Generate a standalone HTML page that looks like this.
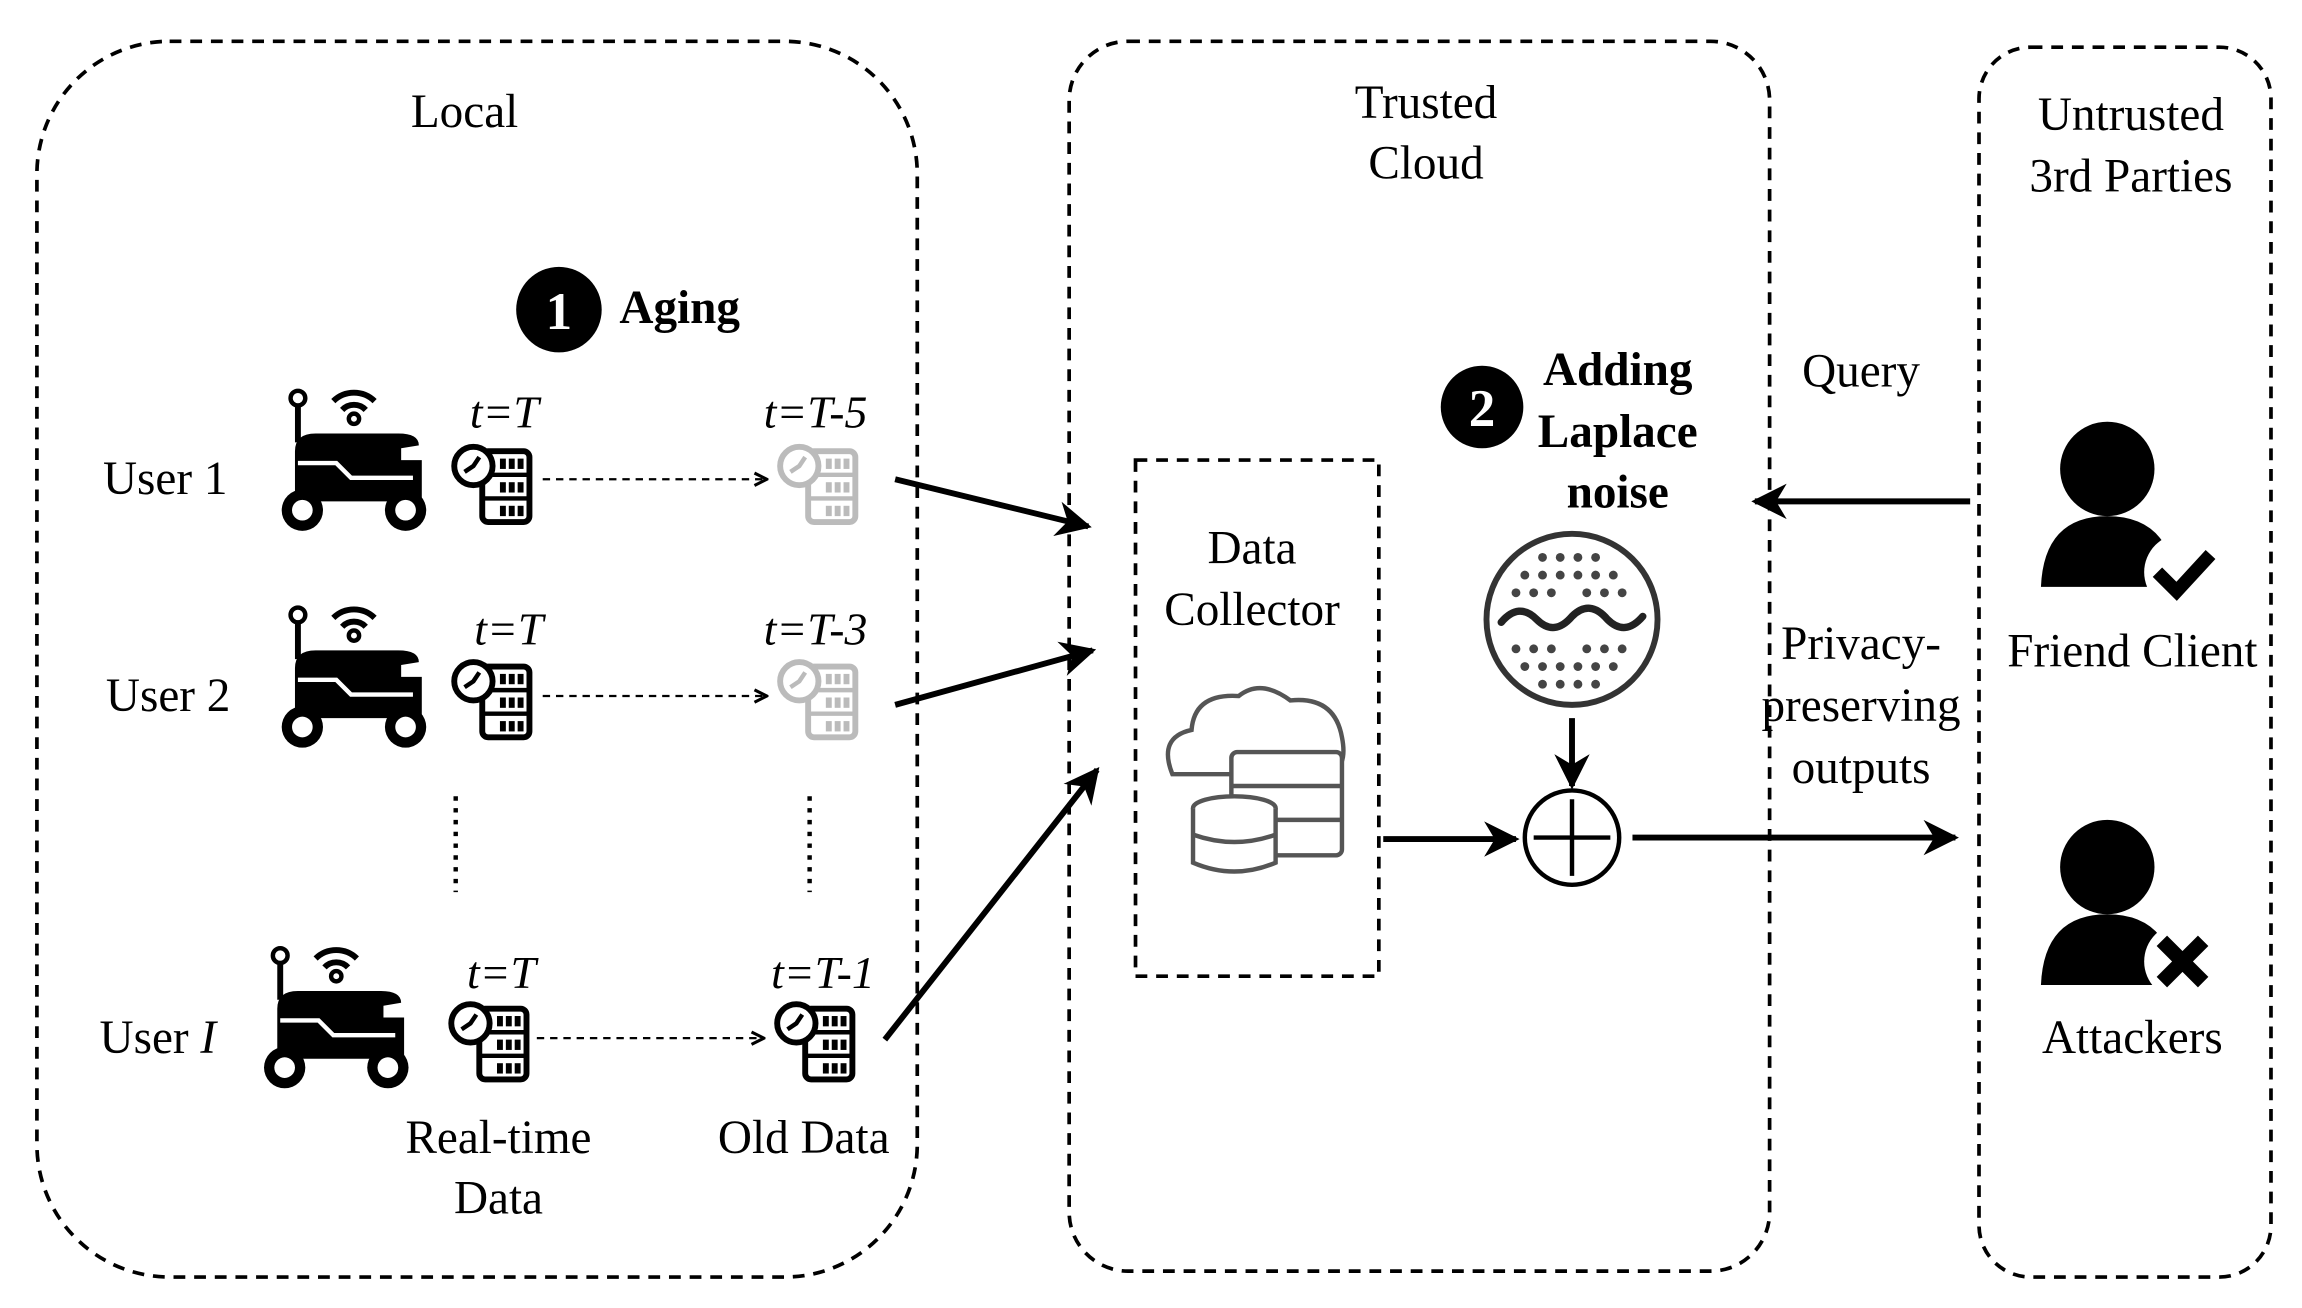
<!DOCTYPE html>
<html><head><meta charset="utf-8"><style>
html,body{margin:0;padding:0;background:#fff;}
svg{display:block;}
text{font-family:"Liberation Serif",serif;fill:#000;}
</style></head><body>
<svg width="2302" height="1308" viewBox="0 0 1561 887" xmlns="http://www.w3.org/2000/svg">
<defs>
<marker id="ah" viewBox="0 0 10 10" refX="9" refY="5" markerWidth="6" markerHeight="6" orient="auto"><path d="M0,0 L10,5 L0,10 L3,5 z" fill="#000"/></marker>
<marker id="sh" viewBox="0 0 10 10" refX="9" refY="5" markerWidth="7" markerHeight="7" orient="auto"><path d="M1,1 L9,5 L1,9" fill="none" stroke="#000" stroke-width="2"/></marker>
<g id="robot">
<circle cx="12" cy="12" r="5" fill="none" stroke="#000" stroke-width="3"/>
<line x1="12" y1="17" x2="12" y2="42" stroke="#000" stroke-width="4"/>
<path d="M36,14 A20,20 0 0 1 64,14" fill="none" stroke="#000" stroke-width="4"/>
<path d="M42,20 A11,11 0 0 1 58,20" fill="none" stroke="#000" stroke-width="4"/>
<circle cx="50" cy="26" r="3.5" fill="none" stroke="#000" stroke-width="3"/>
<path d="M10,48 Q10,36 24,36 L80,36 Q94,36 94,44 L82,46 L82,54 L96,54 L96,82 L10,82 z" fill="#000"/>
<path d="M12,56 L38,56 L48,66 L90,66" fill="none" stroke="#fff" stroke-width="3"/>
<circle cx="15" cy="88" r="14" fill="#000"/><circle cx="15" cy="88" r="7" fill="#fff"/>
<circle cx="85" cy="88" r="14" fill="#000"/><circle cx="85" cy="88" r="7" fill="#fff"/>
</g>
<g id="data">
<rect x="22" y="8" width="32" height="48" rx="4" fill="#fff" stroke="currentColor" stroke-width="4"/>
<line x1="22" y1="24" x2="54" y2="24" stroke="currentColor" stroke-width="3"/>
<line x1="22" y1="40" x2="54" y2="40" stroke="currentColor" stroke-width="3"/>
<g fill="currentColor"><rect x="34" y="13" width="4" height="7"/><rect x="40" y="13" width="4" height="7"/><rect x="46" y="13" width="4" height="7"/>
<rect x="34" y="29" width="4" height="7"/><rect x="40" y="29" width="4" height="7"/><rect x="46" y="29" width="4" height="7"/>
<rect x="34" y="45" width="4" height="7"/><rect x="40" y="45" width="4" height="7"/><rect x="46" y="45" width="4" height="7"/></g>
<circle cx="16" cy="18" r="13" fill="#fff" stroke="currentColor" stroke-width="4"/>
<path d="M10,22 L16,18 L20,12" fill="none" stroke="currentColor" stroke-width="3"/>
</g>
<g id="person">
<circle cx="45" cy="32" r="32" fill="#000"/>
<path d="M0,112 Q2,64 45,64 Q88,64 92,112 z" fill="#000"/>
</g>
</defs>

<rect x="25" y="28" width="597" height="838" rx="90" fill="none" stroke="#000" stroke-width="2.5" stroke-dasharray="8,6"/>
<rect x="725" y="28" width="475" height="834" rx="40" fill="none" stroke="#000" stroke-width="2.5" stroke-dasharray="8,6"/>
<rect x="1342" y="32" width="198" height="834" rx="35" fill="none" stroke="#000" stroke-width="2.5" stroke-dasharray="8,6"/>
<rect x="770" y="312" width="165" height="350" fill="none" stroke="#000" stroke-width="2.5" stroke-dasharray="8,6"/>

<g font-size="32">
<text x="315" y="86" text-anchor="middle">Local</text>
<text x="967" y="80" text-anchor="middle">Trusted</text>
<text x="967" y="121" text-anchor="middle">Cloud</text>
<text x="1445" y="88" text-anchor="middle">Untrusted</text>
<text x="1445" y="130" text-anchor="middle">3rd Parties</text>
<text x="112" y="335" text-anchor="middle">User 1</text>
<text x="114" y="482" text-anchor="middle">User 2</text>
<text x="107" y="714" text-anchor="middle">User <tspan font-style="italic">I</tspan></text>
<text x="338" y="782" text-anchor="middle">Real-time</text>
<text x="338" y="823" text-anchor="middle">Data</text>
<text x="545" y="782" text-anchor="middle">Old Data</text>
<text x="849" y="382" text-anchor="middle">Data</text>
<text x="849" y="424" text-anchor="middle">Collector</text>
<text x="1262" y="262" text-anchor="middle">Query</text>
<text x="1262" y="447" text-anchor="middle">Privacy-</text>
<text x="1262" y="489" text-anchor="middle">preserving</text>
<text x="1262" y="531" text-anchor="middle">outputs</text>
<text x="1446" y="452" text-anchor="middle">Friend Client</text>
<text x="1446" y="714" text-anchor="middle">Attackers</text>
</g>
<g font-size="32" font-weight="bold">
<text x="420" y="219">Aging</text>
<text x="1097" y="261" text-anchor="middle">Adding</text>
<text x="1097" y="303" text-anchor="middle">Laplace</text>
<text x="1097" y="344" text-anchor="middle">noise</text>
</g>
<circle cx="379" cy="210" r="29" fill="#000"/>
<text x="379" y="223" font-size="36" font-weight="bold" text-anchor="middle" style="fill:#fff">1</text>
<circle cx="1005" cy="276" r="28" fill="#000"/>
<text x="1005" y="289" font-size="36" font-weight="bold" text-anchor="middle" style="fill:#fff">2</text>

<g font-size="31" font-style="italic">
<text x="342" y="290" text-anchor="middle">t=T</text>
<text x="553" y="290" text-anchor="middle">t=T-5</text>
<text x="345" y="437" text-anchor="middle">t=T</text>
<text x="553" y="437" text-anchor="middle">t=T-3</text>
<text x="340" y="670" text-anchor="middle">t=T</text>
<text x="558" y="670" text-anchor="middle">t=T-1</text>
</g>

<use href="#robot" x="190" y="258"/>
<use href="#robot" x="190" y="405"/>
<use href="#robot" x="178" y="636"/>
<use href="#data" x="305" y="298" color="#000"/>
<use href="#data" x="305" y="444" color="#000"/>
<use href="#data" x="303" y="676" color="#000"/>
<use href="#data" x="526" y="298" color="#bbb"/>
<use href="#data" x="526" y="444" color="#bbb"/>
<use href="#data" x="524" y="676" color="#000"/>

<g stroke="#000" stroke-width="1.5" stroke-dasharray="5,4" fill="none">
<line x1="368" y1="325" x2="520" y2="325" marker-end="url(#sh)"/>
<line x1="368" y1="472" x2="520" y2="472" marker-end="url(#sh)"/>
<line x1="364" y1="704" x2="518" y2="704" marker-end="url(#sh)"/>
</g>
<g stroke="#000" stroke-width="3" stroke-dasharray="3,5">
<line x1="309" y1="540" x2="309" y2="605"/>
<line x1="549" y1="540" x2="549" y2="605"/>
</g>

<g stroke="#000" stroke-width="4" fill="none" marker-end="url(#ah)">
<line x1="607" y1="325" x2="738" y2="357"/>
<line x1="607" y1="478" x2="741" y2="441"/>
<line x1="600" y1="705" x2="744" y2="522"/>
<line x1="938" y1="569" x2="1028" y2="569"/>
<line x1="1107" y1="568" x2="1326" y2="568"/>
<line x1="1336" y1="340" x2="1190" y2="340"/>
<line x1="1066" y1="487" x2="1066" y2="533"/>
</g>

<g stroke="#555" stroke-width="3" fill="#fff">
<path d="M795,525 Q785,500 808,495 Q810,470 840,472 Q855,460 875,475 Q905,472 910,500 Q915,525 895,525 z"/>
<rect x="835" y="510" width="75" height="70" rx="4"/>
<line x1="835" y1="533" x2="910" y2="533"/><line x1="835" y1="556" x2="910" y2="556"/>
<ellipse cx="837" cy="548" rx="28" ry="8"/>
<path d="M809,548 L809,585 Q837,597 865,585 L865,548"/>
<path d="M809,566 Q837,576 865,566"/>
</g>

<circle cx="1066" cy="420" r="58" fill="#fff" stroke="#333" stroke-width="4"/>
<g fill="#444">
<circle cx="1046" cy="378" r="3"/><circle cx="1058" cy="378" r="3"/><circle cx="1070" cy="378" r="3"/><circle cx="1082" cy="378" r="3"/>
<circle cx="1034" cy="390" r="3"/><circle cx="1046" cy="390" r="3"/><circle cx="1058" cy="390" r="3"/><circle cx="1070" cy="390" r="3"/><circle cx="1082" cy="390" r="3"/><circle cx="1094" cy="390" r="3"/>
<circle cx="1028" cy="402" r="3"/><circle cx="1040" cy="402" r="3"/><circle cx="1052" cy="402" r="3"/><circle cx="1076" cy="402" r="3"/><circle cx="1088" cy="402" r="3"/><circle cx="1100" cy="402" r="3"/>
<circle cx="1028" cy="440" r="3"/><circle cx="1040" cy="440" r="3"/><circle cx="1052" cy="440" r="3"/><circle cx="1076" cy="440" r="3"/><circle cx="1088" cy="440" r="3"/><circle cx="1100" cy="440" r="3"/>
<circle cx="1034" cy="452" r="3"/><circle cx="1046" cy="452" r="3"/><circle cx="1058" cy="452" r="3"/><circle cx="1070" cy="452" r="3"/><circle cx="1082" cy="452" r="3"/><circle cx="1094" cy="452" r="3"/>
<circle cx="1046" cy="464" r="3"/><circle cx="1058" cy="464" r="3"/><circle cx="1070" cy="464" r="3"/><circle cx="1082" cy="464" r="3"/>
</g>
<path d="M1018,422 Q1030,408 1042,420 Q1054,432 1066,418 Q1078,406 1090,420 Q1102,432 1114,418" fill="none" stroke="#222" stroke-width="5" stroke-linecap="round"/>

<circle cx="1066" cy="568" r="32" fill="#fff" stroke="#000" stroke-width="3"/>
<line x1="1040" y1="568" x2="1092" y2="568" stroke="#000" stroke-width="3"/>
<line x1="1066" y1="542" x2="1066" y2="594" stroke="#000" stroke-width="3"/>

<use href="#person" x="1384" y="286"/>
<circle cx="1480" cy="388" r="26" fill="#fff"/>
<path d="M1463,388 L1476,401 L1499,376" fill="none" stroke="#000" stroke-width="9"/>
<use href="#person" x="1384" y="556"/>
<circle cx="1480" cy="652" r="26" fill="#fff"/>
<path d="M1466,638 L1494,666 M1494,638 L1466,666" stroke="#000" stroke-width="10"/>
</svg>
</body></html>
